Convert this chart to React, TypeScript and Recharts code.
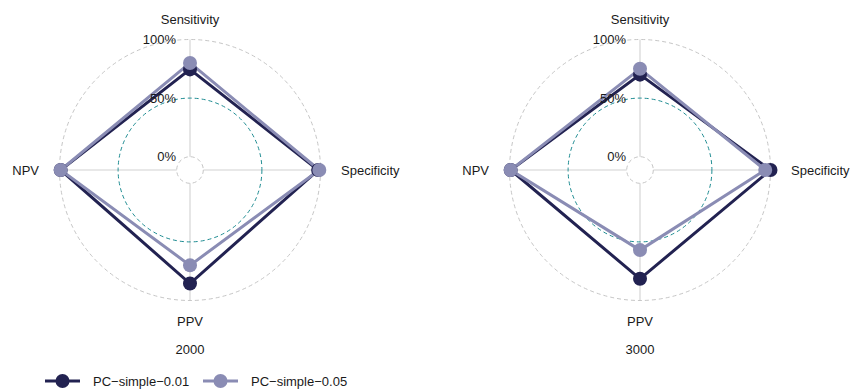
import React from 'react';
import { RadarChart, Radar, PolarGrid, PolarAngleAxis, PolarRadiusAxis, Legend } from 'recharts';

const metrics = ['Sensitivity', 'Specificity', 'PPV', 'NPV'];
const seriesNames = ['PC−simple−0.01', 'PC−simple−0.05'];
const seriesColors = ['#222251', '#8a8cb4'];
const panelTitles = ['2000', '3000'];
const pc001_2000 = [0.745, 0.98, 0.855, 0.99];
const pc005_2000 = [0.8, 0.99, 0.7, 0.99];
const pc001_3000 = [0.7, 1.0, 0.815, 0.99];
const pc005_3000 = [0.75, 0.955, 0.57, 0.99];
const radiusTicks = [0, 0.5, 1];
const radiusTickLabels = ['0%', '50%', '100%'];
const greyGridValues = [0, 1];
const tealGridValues = [0.5];

const panelSeries = [
  [pc001_2000, pc005_2000],
  [pc001_3000, pc005_3000],
];

const FONT = '"Liberation Sans", Arial, Helvetica, sans-serif';
const W = 420;
const H = 391;
const CX = 190;
const CY = 170;
const INNER = 13.3;
const OUTER = 130.5;
const LABEL_R = 151;

const rad = (v: number) => INNER + (OUTER - INNER) * v;

function buildData(panel: number) {
  return metrics.map((m, i) => {
    const row: any = { metric: m };
    seriesNames.forEach((s, j) => {
      row[s] = panelSeries[panel][j][i];
    });
    return row;
  });
}

const AngleTick = (props: any) => {
  const { payload } = props;
  const ang = (payload.coordinate * Math.PI) / 180;
  const c = Math.cos(ang);
  const s = Math.sin(ang);
  const px = CX + c * LABEL_R;
  const py = CY - s * LABEL_R;
  const anchor = c > 0.1 ? 'start' : c < -0.1 ? 'end' : 'middle';
  return (
    <text x={px} y={py} textAnchor={anchor} dominantBaseline="central" fontSize={13} fontFamily={FONT} fill="#1a1a1a">
      {payload.value}
    </text>
  );
};

const RadiusTick = (props: any) => {
  const { x, y, payload } = props;
  const idx = radiusTicks.indexOf(payload.value);
  return (
    <text x={x - 14} y={y} textAnchor="end" dominantBaseline="central" fontSize={13} fontFamily={FONT} fill="#1a1a1a">
      {radiusTickLabels[idx]}
    </text>
  );
};

const makeDot = (color: string) => (p: any) => (
  <circle key={`dot-${p.index}`} cx={p.cx} cy={p.cy} r={7} fill={color} stroke="none" />
);

const LegendContent = (props: any) => {
  const { payload } = props;
  let offset = 45;
  const items: any[] = [];
  (payload || []).forEach((p: any, i: number) => {
    const x0 = offset;
    items.push(
      <g key={i}>
        <line x1={x0} x2={x0 + 35} y1={10} y2={10} stroke={p.color} strokeWidth={3} />
        <circle cx={x0 + 17.5} cy={10} r={7} fill={p.color} />
        <text x={x0 + 48} y={10} dominantBaseline="central" fontSize={13} fontFamily={FONT} fill="#1a1a1a">
          {p.value}
        </text>
      </g>
    );
    offset += 158;
  });
  return (
    <svg width={400} height={20} style={{ display: 'block' }}>
      {items}
    </svg>
  );
};

function Panel({ index }: { index: number }) {
  const data = buildData(index);
  return (
    <div style={{ position: 'absolute', left: index * 450, top: 0, width: W, height: H }}>
      <RadarChart
        width={W}
        height={H}
        data={data}
        cx={CX}
        cy={CY}
        innerRadius={INNER}
        outerRadius={OUTER}
        startAngle={90}
        endAngle={-270}
        margin={{ top: 0, right: 0, bottom: 0, left: 0 }}
      >
        <PolarGrid gridType="circle" polarRadius={[]} radialLines={true} stroke="#d2d2d2" strokeWidth={1.1} />
        <PolarGrid
          gridType="circle"
          polarRadius={greyGridValues.map(rad)}
          radialLines={false}
          stroke="#c6c6c6"
          strokeWidth={1}
          strokeDasharray="4 3"
        />
        <PolarGrid
          gridType="circle"
          polarRadius={tealGridValues.map(rad)}
          radialLines={false}
          stroke="#1e8c92"
          strokeWidth={1}
          strokeDasharray="4 3"
        />
        <PolarAngleAxis dataKey="metric" axisLine={false} tickLine={false} tick={<AngleTick />} />
        <PolarRadiusAxis
          angle={90}
          domain={[0, 1]}
          ticks={radiusTicks}
          axisLine={false}
          tickLine={false}
          tick={<RadiusTick />}
        />
        {seriesNames.map((s, j) => (
          <Radar
            key={s}
            name={s}
            dataKey={s}
            stroke={seriesColors[j]}
            strokeWidth={3}
            fill="none"
            fillOpacity={0}
            dot={makeDot(seriesColors[j])}
            isAnimationActive={false}
          />
        ))}
        {index === 0 && (
          <Legend
            content={<LegendContent />}
            wrapperStyle={{ position: 'absolute', left: 0, top: 371, width: 400, height: 20 }}
          />
        )}
      </RadarChart>
      <div
        style={{
          position: 'absolute',
          left: CX - 40,
          width: 80,
          top: 341,
          textAlign: 'center',
          fontSize: 13,
          fontFamily: FONT,
          color: '#1a1a1a',
          lineHeight: '18px',
        }}
      >
        {panelTitles[index]}
      </div>
    </div>
  );
}

export default function App() {
  return (
    <div style={{ position: 'absolute', left: 0, top: 0, width: 851, height: 391, background: '#ffffff', overflow: 'hidden' }}>
      <Panel index={0} />
      <Panel index={1} />
    </div>
  );
}
